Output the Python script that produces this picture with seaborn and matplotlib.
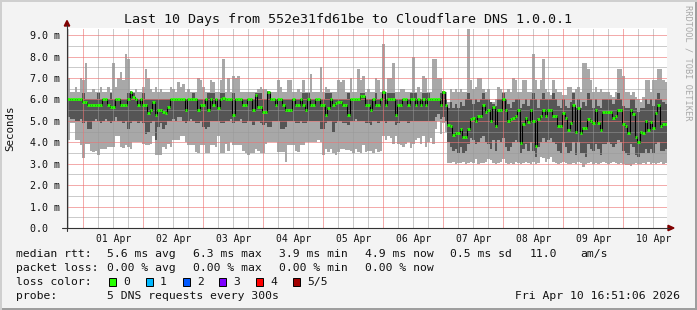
import numpy as np
import pandas as pd
import matplotlib
matplotlib.use("Agg")
import matplotlib.pyplot as plt
import seaborn as sns
from matplotlib.patches import Polygon, Rectangle
from matplotlib.lines import Line2D

# ---------------- data (hourly bins, first bin = 31 Mar 17:30) ----------------
rtt_max = [
    7.0, 6.35, 6.35, 6.6, 6.35, 7.0, 6.9, 7.7, 6.35, 6.35, 6.5, 6.35, 6.35, 6.6, 6.35, 6.35, 6.6, 6.35, 7.7, 6.6, 7.0, 7.3, 6.9, 8.1,
    7.9, 6.35, 6.35, 6.5, 6.35, 6.35, 6.6, 7.4, 7.0, 6.5, 6.35, 6.6, 6.35, 6.5, 6.35, 6.35, 6.35, 6.6, 6.5, 6.35, 6.8, 6.6, 6.7, 6.35,
    6.5, 6.35, 6.35, 6.35, 7.0, 6.9, 6.6, 6.35, 6.35, 6.9, 6.8, 6.35, 6.35, 6.9, 7.9, 6.35, 7.0, 6.35, 7.1, 7.0, 7.1, 6.35, 6.35, 6.35,
    6.35, 6.35, 6.35, 6.35, 6.5, 6.6, 6.5, 6.5, 6.35, 6.35, 6.35, 6.35, 6.9, 6.6, 6.35, 6.35, 6.9, 6.9, 6.35, 6.35, 6.5, 6.35, 6.9, 6.35,
    6.35, 7.2, 6.35, 6.35, 6.35, 7.5, 6.35, 6.6, 6.5, 6.35, 6.35, 6.35, 6.9, 6.8, 6.9, 6.35, 6.35, 7.0, 6.35, 6.35, 7.4, 6.9, 7.1, 6.35,
    6.5, 6.35, 6.35, 7.0, 6.9, 6.35, 8.6, 6.35, 7.0, 7.0, 7.7, 6.35, 6.35, 6.5, 6.5, 6.35, 6.35, 6.35, 8.0, 6.35, 6.6, 6.35, 7.1, 7.0,
    6.35, 6.35, 7.9, 7.9, 7.0, 7.0, 6.35, 6.35, 5.9, 6.5, 6.35, 6.5, 6.35, 6.5, 6.35, 6.35, 9.3, 6.9, 6.5, 6.6, 7.0, 7.0, 6.5, 6.35,
    6.5, 5.9, 5.9, 6.0, 6.6, 6.5, 6.35, 6.35, 6.5, 6.35, 7.0, 6.9, 6.35, 6.35, 6.9, 6.9, 6.35, 6.35, 8.1, 6.9, 6.5, 6.9, 7.9, 6.5,
    6.35, 6.2, 6.9, 6.5, 6.35, 6.35, 6.2, 6.2, 6.6, 6.6, 6.35, 6.5, 6.6, 6.35, 7.7, 7.7, 7.4, 6.9, 6.35, 6.6, 6.35, 6.5, 6.35, 6.35,
    6.35, 6.2, 6.1, 6.35, 7.4, 7.4, 7.1, 6.35, 6.35, 6.2, 6.35, 6.1, 6.0, 5.9, 6.1, 6.9, 6.9, 6.35, 6.9, 6.9, 7.4, 7.4, 6.9, 6.8,
]
rtt_p4 = [
    6.0, 6.0, 6.0, 6.0, 6.0, 6.0, 6.3, 6.0, 6.0, 6.0, 6.0, 6.0, 6.3, 6.0, 6.0, 6.0, 6.0, 6.3, 6.0, 6.0, 6.0, 6.0, 6.0, 6.0,
    6.3, 6.4, 6.3, 6.0, 6.0, 6.0, 6.3, 6.0, 6.0, 6.0, 6.0, 6.0, 6.0, 6.0, 6.0, 6.0, 6.0, 6.0, 6.0, 6.0, 6.0, 6.0, 6.0, 6.0,
    6.0, 6.0, 6.3, 6.0, 6.0, 6.0, 6.0, 6.0, 6.3, 6.3, 6.3, 6.0, 6.0, 6.3, 6.3, 6.0, 6.0, 6.0, 6.3, 6.0, 6.0, 6.0, 6.0, 6.0,
    6.0, 6.0, 6.0, 6.3, 6.3, 6.3, 6.0, 6.0, 6.4, 6.0, 6.0, 6.0, 6.0, 6.0, 6.0, 6.0, 6.0, 6.0, 6.0, 6.0, 6.0, 6.0, 6.3, 6.3,
    6.3, 6.0, 6.0, 6.0, 6.0, 6.0, 6.0, 6.3, 6.3, 6.3, 6.0, 6.0, 6.0, 6.0, 6.0, 6.0, 6.3, 6.0, 6.0, 6.0, 6.0, 6.3, 6.3, 6.0,
    6.0, 6.0, 6.0, 6.3, 6.0, 6.0, 6.4, 6.0, 6.3, 6.3, 6.3, 6.0, 6.0, 6.0, 6.0, 6.0, 6.0, 6.3, 6.3, 6.3, 6.0, 6.0, 6.3, 6.3,
    6.3, 6.0, 6.0, 6.0, 6.0, 6.3, 6.4, 6.0, 5.6, 5.9, 5.6, 5.8, 5.6, 5.9, 5.7, 6.0, 6.3, 6.0, 5.8, 6.0, 5.9, 6.0, 6.3, 6.0,
    6.0, 5.9, 5.8, 5.7, 6.0, 6.0, 6.3, 6.0, 5.8, 5.6, 5.9, 6.0, 6.0, 5.6, 5.8, 6.0, 5.7, 6.0, 6.3, 6.0, 5.6, 6.0, 6.3, 6.0,
    6.0, 6.0, 6.3, 6.0, 5.7, 5.6, 6.0, 5.7, 5.6, 5.9, 6.3, 5.6, 6.0, 5.6, 5.9, 5.7, 6.3, 6.0, 5.6, 6.0, 5.7, 5.6, 6.0, 6.0,
    6.0, 6.0, 5.8, 6.0, 6.3, 6.0, 5.7, 5.6, 5.6, 6.0, 6.0, 5.6, 5.4, 5.6, 5.6, 6.0, 5.8, 6.0, 5.7, 6.0, 6.3, 6.0, 5.9, 5.8,
]
rtt_median = [
    6.0, 6.0, 6.0, 6.0, 6.0, 6.0, 5.89, 5.89, 5.74, 5.74, 5.74, 5.74, 5.74, 5.74, 6.0, 6.0, 5.74, 5.66, 5.66, 6.0, 6.0, 5.74, 5.74, 5.74,
    6.0, 6.36, 6.13, 6.0, 5.74, 6.0, 5.74, 5.74, 5.35, 5.5, 5.89, 5.27, 5.5, 5.5, 5.39, 5.35, 5.66, 6.0, 6.0, 6.0, 6.0, 6.0, 6.0, 5.5,
    6.0, 6.0, 6.0, 6.0, 5.5, 5.74, 5.74, 6.0, 5.5, 6.0, 5.74, 6.0, 5.61, 6.0, 6.08, 6.0, 6.0, 6.0, 5.27, 6.0, 6.0, 6.0, 5.74, 5.74,
    6.0, 6.0, 5.5, 6.2, 5.66, 5.66, 5.39, 5.39, 6.36, 6.0, 6.0, 5.74, 6.0, 6.0, 5.74, 5.5, 5.5, 5.5, 6.0, 5.74, 5.74, 6.0, 5.74, 5.5,
    6.0, 5.74, 5.74, 6.0, 6.0, 5.74, 5.74, 5.27, 5.58, 6.0, 5.74, 5.82, 5.89, 5.89, 5.74, 5.74, 5.27, 6.0, 6.0, 6.0, 6.0, 6.17, 6.17, 5.74,
    5.74, 5.5, 6.0, 5.74, 5.74, 6.0, 6.36, 5.74, 6.0, 6.0, 6.0, 5.27, 5.74, 5.74, 6.0, 6.0, 5.74, 6.0, 6.0, 5.74, 6.0, 5.74, 6.0, 5.74,
    6.0, 6.0, 6.0, 6.0, 6.0, 5.74, 6.36, 5.74, 4.81, 4.78, 4.34, 4.42, 4.42, 4.62, 4.26, 4.26, 4.62, 5.07, 5.12, 4.99, 5.24, 5.24, 5.74, 5.39,
    5.5, 5.01, 5.66, 4.78, 5.5, 5.5, 6.0, 5.5, 5.01, 5.09, 5.15, 5.24, 5.5, 3.98, 4.85, 5.15, 4.96, 5.5, 5.01, 3.84, 5.07, 5.24, 5.5, 5.24,
    5.5, 5.5, 5.24, 5.24, 4.78, 4.78, 5.35, 5.15, 4.57, 4.89, 5.74, 4.49, 5.61, 4.42, 4.65, 4.65, 5.07, 4.99, 4.89, 5.5, 4.89, 4.57, 5.39, 5.39,
    5.39, 5.39, 5.12, 5.24, 5.5, 5.5, 4.85, 4.78, 4.42, 5.5, 5.3, 4.23, 4.0, 4.49, 4.42, 4.99, 4.57, 4.93, 4.65, 5.35, 5.74, 4.78, 4.84, 4.84,
]
rtt_p2 = [
    5.2, 5.1, 5.1, 5.0, 5.0, 5.1, 4.9, 5.0, 4.6, 4.6, 5.0, 5.1, 5.0, 4.9, 5.0, 5.1, 5.0, 4.9, 5.0, 5.2, 5.0, 5.0, 4.9, 5.0,
    4.6, 4.9, 5.0, 5.0, 4.9, 5.0, 4.9, 4.4, 4.5, 4.9, 5.0, 4.1, 4.7, 4.9, 4.6, 4.8, 5.0, 5.0, 5.1, 5.0, 5.2, 5.2, 5.0, 4.9,
    5.0, 5.1, 5.0, 4.9, 4.9, 5.0, 4.7, 4.6, 4.7, 5.0, 5.0, 5.0, 5.0, 4.9, 4.9, 5.0, 5.0, 5.1, 4.9, 5.0, 5.0, 5.1, 4.9, 4.9,
    5.0, 5.0, 4.8, 5.0, 5.0, 4.9, 4.8, 4.9, 4.7, 4.7, 5.0, 5.0, 5.0, 4.6, 4.6, 4.7, 5.0, 5.0, 5.0, 4.9, 4.9, 5.0, 4.9, 4.9,
    5.0, 5.0, 5.0, 5.0, 5.0, 4.6, 4.6, 4.9, 5.0, 5.0, 4.5, 4.9, 5.0, 5.0, 4.9, 4.9, 4.8, 5.0, 5.0, 5.1, 5.0, 5.0, 5.0, 4.9,
    4.9, 4.8, 5.0, 5.0, 4.9, 5.0, 5.0, 4.9, 5.0, 5.0, 5.0, 4.8, 4.9, 5.0, 5.0, 5.0, 4.9, 5.0, 5.0, 5.0, 5.0, 5.0, 5.0, 5.0,
    5.0, 5.0, 5.0, 5.2, 5.3, 5.1, 5.2, 5.0, 4.0, 3.8, 3.6, 3.7, 3.5, 3.8, 3.5, 3.6, 3.9, 4.2, 4.1, 3.9, 4.0, 4.2, 4.3, 4.0,
    3.9, 3.7, 4.1, 3.6, 4.1, 4.0, 4.2, 3.8, 3.6, 3.8, 4.0, 4.1, 4.0, 3.5, 3.7, 3.9, 3.6, 4.0, 3.6, 3.3, 3.8, 4.0, 4.2, 4.0,
    4.1, 4.2, 4.0, 3.9, 3.6, 3.5, 4.0, 3.8, 3.5, 3.6, 4.0, 3.4, 4.0, 3.5, 3.5, 3.3, 3.9, 3.7, 3.6, 3.9, 3.7, 3.4, 3.9, 3.9,
    4.0, 3.9, 3.8, 3.9, 4.1, 4.0, 3.6, 3.5, 3.4, 3.9, 3.8, 3.4, 3.3, 3.5, 3.5, 3.7, 3.5, 3.7, 3.5, 3.9, 4.0, 3.6, 3.6, 3.7,
]
rtt_min = [
    4.1, 4.9, 4.9, 4.1, 4.1, 3.85, 3.25, 3.9, 3.9, 3.6, 3.55, 3.6, 3.4, 3.7, 3.7, 3.7, 3.8, 3.8, 3.8, 4.3, 4.3, 3.8, 3.75, 3.85,
    3.8, 3.7, 4.0, 4.0, 4.0, 4.0, 3.9, 3.85, 3.85, 3.9, 4.3, 3.4, 3.4, 3.4, 3.8, 3.7, 3.9, 3.8, 4.1, 4.1, 4.1, 4.3, 4.3, 4.0,
    3.85, 3.85, 3.85, 3.55, 3.5, 3.85, 3.85, 3.5, 3.5, 3.85, 3.85, 3.8, 4.3, 3.5, 3.5, 3.9, 3.6, 4.0, 3.85, 3.85, 3.85, 3.85, 3.6, 3.5,
    3.4, 3.5, 3.5, 3.7, 3.6, 3.5, 3.5, 3.9, 4.0, 4.0, 4.0, 4.0, 3.55, 3.55, 3.55, 3.1, 3.85, 3.85, 3.85, 3.6, 3.55, 3.85, 3.85, 4.0,
    4.0, 4.0, 4.0, 4.0, 4.1, 4.0, 3.4, 3.7, 3.55, 3.7, 3.5, 3.4, 3.55, 3.7, 3.7, 3.65, 3.65, 3.6, 3.5, 3.7, 3.55, 3.5, 3.85, 3.55,
    3.6, 3.6, 3.5, 3.7, 3.55, 3.6, 4.3, 4.1, 4.3, 4.2, 3.9, 4.3, 3.9, 3.85, 3.8, 3.9, 4.0, 3.75, 3.9, 4.1, 4.2, 3.9, 4.3, 3.8,
    4.0, 4.2, 3.9, 4.6, 5.0, 4.4, 4.9, 4.5, 3.05, 3.05, 3.1, 3.0, 3.05, 3.05, 3.1, 3.0, 3.05, 3.1, 3.05, 3.2, 3.0, 3.05, 3.05, 3.1,
    3.2, 3.15, 3.05, 3.0, 3.05, 3.1, 3.2, 3.05, 3.0, 3.05, 3.0, 3.1, 3.05, 3.0, 3.05, 3.1, 3.05, 3.0, 3.1, 3.0, 3.05, 3.3, 3.25, 3.1,
    3.2, 3.3, 3.1, 3.05, 3.0, 3.05, 3.1, 3.05, 3.0, 3.0, 3.05, 3.0, 3.1, 3.05, 2.85, 3.0, 3.05, 3.1, 3.0, 3.05, 3.0, 3.05, 3.1, 3.05,
    3.0, 3.05, 3.1, 3.05, 3.0, 3.05, 3.0, 2.95, 2.95, 2.9, 3.0, 3.05, 3.0, 3.0, 3.05, 3.0, 3.1, 3.0, 3.05, 3.0, 3.05, 3.1, 3.0, 3.05,
]
day_labels = ["01 Apr", "02 Apr", "03 Apr", "04 Apr", "05 Apr",
              "06 Apr", "07 Apr", "08 Apr", "09 Apr", "10 Apr"]
y_ticks = [0, 1, 2, 3, 4, 5, 6, 7, 8, 9]
y_labels = ["0.0  ", "1.0 m", "2.0 m", "3.0 m", "4.0 m",
            "5.0 m", "6.0 m", "7.0 m", "8.0 m", "9.0 m"]
loss_labels = ["0", "1", "2", "3", "4", "5/5"]
loss_colors = ["#26ff00", "#00b8ff", "#0059ff", "#7e00ff", "#ff0000", "#a10000"]

N = len(rtt_median)
for arr in (rtt_max, rtt_p4, rtt_p2, rtt_min):
    assert len(arr) == N, len(arr)

# ---------------- figure ----------------
sns.set_style("white")
MONO = ['DejaVu Sans Mono', 'DejaVu Sans']
plt.rcParams['font.family'] = MONO

W, H = 697, 310
BG = '#f3f3f3'
fig = plt.figure(figsize=(W / 100, H / 100), dpi=100, facecolor=BG)


def fx(x):
    return x / W


def fy(y):
    return 1 - y / H


ax = fig.add_axes([fx(67), fy(228), 600 / W, 200 / H])
ax.set_facecolor('white')
for s in ax.spines.values():
    s.set_visible(False)

edges = np.arange(N + 1) + 0.5


def ext(a):
    a = np.asarray(a, dtype=float)
    return np.append(a, a[-1])


LIGHT = '#a8a8a8'
DARK = '#555555'
ax.fill_between(edges, ext(rtt_min), ext(rtt_max), step='post', color=LIGHT, lw=0, zorder=1)
ax.fill_between(edges, ext(rtt_p2), ext(rtt_p4), step='post', color=DARK, lw=0, zorder=2)

# grid (dotted, drawn above smoke as rrdtool does)
GRID_MIN = (0.6, 0.6, 0.6, 0.5)
GRID_MAJ = (0.92, 0.45, 0.45, 0.6)
dot = (0, (1, 1))
for yv in np.arange(0.5, 9.5, 1.0):
    ax.axhline(yv, color=GRID_MIN, lw=0.72, ls=dot, zorder=2.5, antialiased=False)
for yv in y_ticks[1:]:
    ax.axhline(yv, color=GRID_MAJ, lw=0.72, ls=dot, zorder=2.6, antialiased=False)
minor_x = np.arange(1, 241, 6)
day_x = np.arange(7, 241, 24)
for xv in minor_x:
    if xv not in day_x:
        ax.axvline(xv, color=GRID_MIN, lw=0.72, ls=dot, zorder=2.5, antialiased=False)
for xv in day_x:
    ax.axvline(xv, color=GRID_MAJ, lw=0.72, ls=dot, zorder=2.6, antialiased=False)

# median: black step connectors + green loss-coloured segments
med_df = pd.DataFrame({'hour': edges, 'median': ext(rtt_median)})
sns.lineplot(data=med_df, x='hour', y='median', drawstyle='steps-post',
             color='black', lw=0.75, ax=ax, zorder=3, estimator=None)
ax.hlines(rtt_median, edges[:-1], edges[1:], colors=loss_colors[0], lw=2.0,
          zorder=4, capstyle='butt')

ax.set_xlim(0.5, 240.5)
ax.set_ylim(0, 9.33)
ax.set_xlabel('')
ax.set_ylabel('')
ax.set_xticks(day_x + 12)
ax.set_xticklabels(day_labels, fontsize=7.0, color='#111111')
ax.set_xticks(minor_x, minor=True)
ax.set_yticks(y_ticks)
ax.set_yticklabels(y_labels, fontsize=7.2, color='#111111')
ax.tick_params(axis='x', which='major', length=0, pad=4)
ax.tick_params(axis='x', which='minor', length=2.5, width=0.7, color=(1, 0, 0, 0.5), direction='out')
ax.tick_params(axis='y', which='both', length=0, pad=5)

# axis lines with arrowheads
AX_COL = '#333333'
ARROW = '#800000'
fig.add_artist(Line2D([fx(67), fx(67)], [fy(231), fy(25)], color=AX_COL, lw=0.8))
fig.add_artist(Line2D([fx(62), fx(669)], [fy(228), fy(228)], color=AX_COL, lw=0.8))
fig.add_artist(Polygon([[fx(64.3), fy(26)], [fx(69.7), fy(26)], [fx(67), fy(20.5)]],
                       closed=True, color=ARROW, transform=fig.transFigure))
fig.add_artist(Polygon([[fx(668), fy(225.3)], [fx(668), fy(230.7)], [fx(674), fy(228)]],
                       closed=True, color=ARROW, transform=fig.transFigure))

# frame shading
fig.add_artist(Rectangle((0, 0), 1, 2 / H, transform=fig.transFigure, color='#9e9e9e', lw=0))
fig.add_artist(Rectangle((1 - 2 / W, 0), 2 / W, 1, transform=fig.transFigure, color='#9e9e9e', lw=0))
fig.add_artist(Rectangle((0, 1 - 2 / H), 1, 2 / H, transform=fig.transFigure, color='#cfcfcf', lw=0))
fig.add_artist(Rectangle((0, 0), 2 / W, 1, transform=fig.transFigure, color='#cfcfcf', lw=0))

TXT = '#111111'
fig.text(fx(348), fy(19), "Last 10 Days from 552e31fd61be to Cloudflare DNS 1.0.0.1",
         ha='center', va='center', fontsize=9.6, color=TXT)
fig.text(fx(10), fy(128), "Seconds", rotation=90, ha='center', va='center', fontsize=7.8, color=TXT)
fig.text(fx(688), fy(5), "RRDTOOL / TOBI OETIKER", rotation=270, ha='center', va='top',
         fontsize=6.2, color='#a8a8a8')

LF = 8.2
rows = [
    (254, [(16, "median rtt:"), (107, "5.6 ms avg"), (193, "6.3 ms max"), (279, "3.9 ms min"),
           (365, "4.9 ms now"), (450, "0.5 ms sd"), (530, "11.0"), (580, "am/s")]),
    (268, [(16, "packet loss:"), (107, "0.00 % avg"), (193, "0.00 % max"), (279, "0.00 % min"),
           (365, "0.00 % now")]),
    (282, [(16, "loss color:")]),
    (296, [(16, "probe:"), (107, "5 DNS requests every 300s")]),
]
for yy, items in rows:
    for xx, s in items:
        fig.text(fx(xx), fy(yy), s, ha='left', va='center', fontsize=LF, color=TXT)

box_x = [109, 146, 183, 219, 256, 293]
for bx, lab, col in zip(box_x, loss_labels, loss_colors):
    fig.add_artist(Rectangle((fx(bx), fy(286)), 7 / W, 8 / H, transform=fig.transFigure,
                             facecolor=col, edgecolor='black', lw=0.7))
    fig.text(fx(bx + 14), fy(282), lab, ha='left', va='center', fontsize=LF, color=TXT)

fig.text(fx(680), fy(296), "Fri Apr 10 16:51:06 2026", ha='right', va='center', fontsize=LF, color=TXT)

fig.savefig("out.png", dpi=100, facecolor=BG)
